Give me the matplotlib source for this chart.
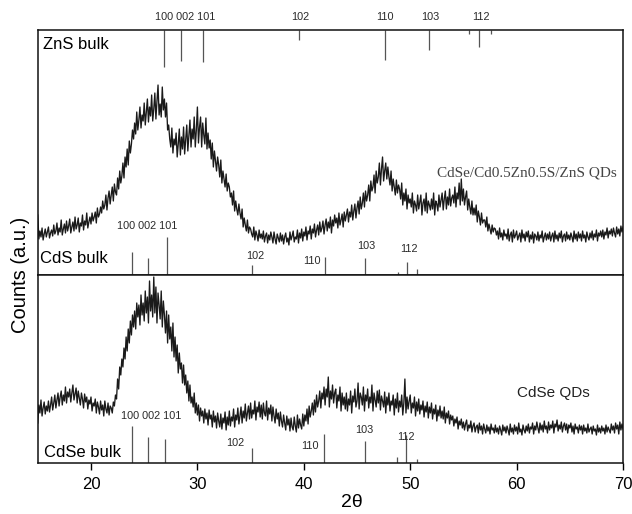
import numpy as np
import matplotlib
matplotlib.use('Agg')
import matplotlib.pyplot as plt

plt.rcParams['font.family'] = ['Liberation Sans', 'DejaVu Sans']

# 2theta grid, 0.1 deg steps from 15 to 70
two_theta = np.linspace(15, 70, 551)

# CdSe/Cd0.5Zn0.5S/ZnS QDs pattern (a.u.), one row per degree
core_shell_rows = [
    [60, 36, 44, 38, 47, 35, 41, 46, 38, 43],
    [48, 37, 42, 45, 39, 50, 41, 44, 52, 40],
    [47, 43, 55, 40, 46, 51, 42, 54, 44, 49],
    [56, 42, 48, 53, 44, 58, 46, 50, 57, 43],
    [52, 49, 60, 45, 54, 50, 62, 47, 53, 58],
    [51, 62, 54, 58, 63, 52, 67, 58, 61, 68],
    [62, 74, 66, 70, 80, 65, 77, 84, 71, 80],
    [88, 74, 91, 83, 80, 97, 86, 104, 92, 99],
    [112, 97, 118, 108, 126, 110, 134, 122, 131, 145],
    [136, 152, 141, 163, 145, 155, 168, 147, 160, 154],
    [172, 150, 163, 176, 153, 168, 159, 180, 154, 166],
    [182, 156, 174, 190, 160, 171, 158, 188, 165, 176],
    [158, 172, 145, 150, 136, 128, 147, 122, 136, 130],
    [142, 118, 131, 146, 120, 138, 126, 148, 121, 135],
    [150, 124, 139, 155, 128, 146, 136, 158, 128, 145],
    [168, 132, 148, 158, 128, 152, 140, 131, 157, 126],
    [142, 127, 135, 116, 132, 108, 124, 114, 104, 118],
    [110, 98, 115, 92, 104, 96, 88, 101, 84, 92],
    [88, 78, 82, 70, 84, 64, 74, 66, 60, 71],
    [62, 56, 66, 48, 57, 50, 44, 55, 42, 48],
    [46, 41, 38, 48, 35, 44, 40, 34, 45, 37],
    [41, 36, 44, 33, 39, 42, 32, 40, 35, 43],
    [38, 32, 43, 36, 31, 41, 37, 33, 42, 34],
    [40, 31, 38, 42, 33, 37, 30, 43, 35, 39],
    [44, 33, 38, 36, 45, 32, 42, 37, 46, 34],
    [43, 39, 48, 35, 44, 41, 49, 36, 46, 42],
    [51, 38, 45, 50, 40, 53, 43, 47, 54, 41],
    [50, 56, 44, 53, 47, 58, 42, 55, 49, 60],
    [52, 57, 47, 62, 50, 55, 61, 48, 63, 54],
    [60, 66, 53, 63, 58, 70, 55, 64, 71, 57],
    [67, 74, 61, 78, 66, 72, 82, 68, 84, 74],
    [80, 90, 74, 94, 84, 88, 100, 82, 104, 92],
    [98, 112, 90, 106, 118, 94, 104, 112, 96, 108],
    [98, 90, 104, 84, 96, 88, 80, 95, 82, 90],
    [86, 76, 92, 70, 82, 74, 86, 66, 80, 72],
    [76, 68, 82, 62, 74, 70, 64, 80, 66, 73],
    [80, 60, 72, 76, 64, 82, 62, 74, 70, 65],
    [76, 66, 82, 60, 74, 71, 64, 80, 68, 75],
    [82, 65, 76, 84, 66, 78, 70, 86, 69, 77],
    [80, 72, 88, 68, 82, 76, 92, 70, 96, 74],
    [86, 70, 78, 84, 65, 76, 68, 61, 74, 60],
    [67, 60, 70, 53, 64, 58, 50, 62, 52, 55],
    [55, 48, 58, 44, 51, 46, 41, 50, 43, 47],
    [46, 40, 44, 36, 47, 38, 42, 35, 45, 39],
    [41, 36, 46, 34, 40, 43, 33, 45, 37, 40],
    [44, 35, 39, 42, 33, 45, 37, 41, 34, 43],
    [38, 44, 33, 40, 36, 43, 32, 41, 39, 35],
    [43, 34, 40, 37, 44, 33, 38, 42, 35, 41],
    [36, 43, 34, 39, 42, 33, 44, 36, 40, 34],
    [42, 37, 44, 33, 39, 41, 34, 43, 36, 40],
    [35, 42, 38, 33, 44, 36, 41, 34, 43, 37],
    [41, 34, 44, 37, 40, 33, 43, 38, 35, 42],
    [37, 44, 35, 41, 38, 45, 34, 42, 39, 44],
    [38, 45, 36, 43, 40, 47, 37, 44, 41, 46],
    [39, 47, 42, 38, 48, 41, 46, 39, 49, 43],
    [48],
]

# CdSe QDs pattern (a.u.)
cdse_rows = [
    [40, 58, 50, 63, 47, 55, 61, 49, 57, 52],
    [62, 51, 58, 66, 53, 60, 68, 55, 63, 70],
    [57, 66, 72, 58, 68, 62, 76, 60, 71, 66],
    [74, 61, 70, 78, 63, 69, 75, 60, 72, 65],
    [58, 70, 64, 55, 69, 61, 66, 54, 63, 59],
    [66, 52, 60, 57, 64, 50, 61, 56, 49, 62],
    [53, 58, 47, 62, 54, 50, 60, 48, 57, 55],
    [50, 61, 57, 68, 64, 84, 74, 96, 88, 104],
    [96, 115, 104, 126, 112, 134, 120, 142, 128, 148],
    [136, 152, 134, 160, 146, 158, 138, 168, 148, 160],
    [142, 172, 150, 166, 140, 182, 152, 168, 146, 186],
    [150, 176, 140, 170, 158, 144, 172, 136, 162, 148],
    [130, 152, 120, 148, 124, 136, 112, 140, 106, 126],
    [102, 118, 90, 110, 94, 100, 80, 98, 78, 88],
    [70, 82, 62, 78, 60, 66, 56, 70, 50, 60],
    [48, 58, 42, 55, 47, 52, 40, 54, 44, 50],
    [38, 53, 44, 48, 36, 52, 41, 47, 35, 50],
    [42, 36, 49, 34, 45, 40, 51, 33, 46, 38],
    [52, 37, 46, 42, 54, 36, 48, 43, 55, 39],
    [47, 56, 40, 52, 45, 59, 42, 50, 57, 44],
    [60, 45, 53, 49, 62, 43, 56, 51, 61, 46],
    [58, 44, 60, 50, 47, 62, 43, 55, 49, 58],
    [42, 56, 47, 40, 54, 44, 50, 37, 51, 42],
    [36, 48, 40, 33, 47, 38, 44, 32, 45, 36],
    [33, 46, 37, 31, 48, 35, 44, 38, 34, 49],
    [37, 48, 42, 54, 39, 57, 46, 52, 60, 48],
    [63, 51, 68, 56, 62, 72, 55, 70, 64, 76],
    [58, 74, 66, 86, 56, 72, 64, 78, 60, 70],
    [74, 55, 68, 62, 76, 52, 70, 58, 66, 54],
    [70, 52, 64, 58, 72, 50, 67, 61, 74, 56],
    [62, 80, 54, 70, 66, 58, 76, 52, 68, 62],
    [74, 55, 66, 60, 78, 52, 70, 63, 56, 72],
    [60, 73, 53, 67, 62, 56, 71, 50, 66, 58],
    [70, 52, 62, 58, 68, 48, 64, 55, 70, 51],
    [62, 56, 68, 48, 60, 84, 50, 66, 54, 62],
    [68, 50, 60, 55, 66, 47, 61, 52, 64, 49],
    [58, 53, 62, 46, 57, 51, 61, 45, 56, 50],
    [60, 44, 54, 49, 58, 42, 53, 47, 57, 45],
    [52, 44, 56, 40, 50, 45, 52, 39, 48, 43],
    [47, 37, 44, 40, 46, 34, 42, 38, 44, 35],
    [41, 33, 39, 43, 32, 38, 35, 42, 31, 37],
    [40, 31, 36, 38, 30, 40, 33, 37, 29, 39],
    [34, 30, 38, 32, 36, 29, 39, 33, 35, 30],
    [38, 31, 35, 29, 37, 33, 28, 38, 32, 36],
    [30, 37, 33, 28, 39, 31, 35, 29, 38, 32],
    [36, 29, 40, 31, 34, 28, 38, 33, 30, 37],
    [32, 39, 30, 36, 34, 40, 29, 37, 33, 41],
    [35, 30, 40, 33, 38, 31, 42, 34, 37, 30],
    [41, 33, 38, 35, 42, 30, 39, 36, 43, 32],
    [38, 34, 41, 31, 37, 40, 33, 39, 30, 38],
    [35, 40, 31, 37, 29, 39, 34, 36, 30, 38],
    [33, 37, 29, 38, 32, 35, 30, 39, 31, 34],
    [36, 29, 37, 32, 34, 28, 38, 31, 35, 30],
    [37, 32, 35, 29, 38, 31, 36, 33, 30, 39],
    [33, 37, 30, 40, 34, 38, 29, 41, 33, 39],
    [34],
]

core_shell_counts = np.array([v for row in core_shell_rows for v in row])
cdse_counts = np.array([v for row in cdse_rows for v in row])

# reference patterns (stick positions and relative heights)
zns_pos = [26.86, 28.46, 30.53, 39.55, 47.63, 51.77, 55.5, 56.47, 57.6]
zns_int = [37, 31, 32, 10, 30, 20, 4, 17, 4]
cds_pos = [23.86, 25.4, 27.1, 35.1, 41.99, 45.75, 48.85, 49.7, 50.6]
cds_int = [23, 17, 38, 10, 18, 17, 3, 13, 6]
cdse_pos = [23.86, 25.4, 27.0, 35.1, 41.9, 45.75, 48.8, 49.6, 50.6]
cdse_int = [37, 26, 24, 15, 29, 22, 6, 28, 4]

hkl_labels = ['100 002 101', '102', '110', '103', '112']
zns_label_x = [28.83, 39.7, 47.6, 51.9, 56.6]
cds_label_xy = [(25.3, 49), (35.4, 19), (40.8, 14), (45.84, 29), (49.9, 26)]
cdse_label_xy = [(25.7, 47), (33.6, 20), (40.6, 17), (45.7, 33), (49.6, 26)]

top_max = 245
bot_max = 188

fig = plt.figure(figsize=(6.32, 5.14), dpi=100)
ax1 = fig.add_axes([0.0598, 0.465, 0.926, 0.4766])
ax2 = fig.add_axes([0.0598, 0.0992, 0.926, 0.3658], sharex=ax1)

line_col = '#1a1a1a'
stick_col = '#555555'
lab_col = '#2a2a2a'
hkl_size = 7.8

# top panel
ax1.plot(two_theta, core_shell_counts, color=line_col, lw=0.95)
ax1.vlines(zns_pos, [top_max - h for h in zns_int], top_max, color=stick_col, lw=0.9)
ax1.vlines(cds_pos, 0, cds_int, color=stick_col, lw=0.9)
for txt, x in zip(hkl_labels, zns_label_x):
    ax1.text(x, top_max + 13, txt, ha='center', va='center', fontsize=hkl_size, color=lab_col, clip_on=False)
for txt, (x, y) in zip(hkl_labels, cds_label_xy):
    ax1.text(x, y, txt, ha='center', va='center', fontsize=hkl_size, color=lab_col)
ax1.text(15.5, 231, 'ZnS bulk', fontsize=12, va='center', ha='left')
ax1.text(15.2, 16, 'CdS bulk', fontsize=12, va='center', ha='left')
ax1.text(69.4, 102, 'CdSe/Cd0.5Zn0.5S/ZnS QDs', fontsize=11, va='center', ha='right',
         color='#444444', family=['Liberation Serif', 'DejaVu Serif'])
ax1.set_ylim(0, top_max)

# bottom panel
ax2.plot(two_theta, cdse_counts, color=line_col, lw=0.95)
ax2.vlines(cdse_pos, 0, cdse_int, color=stick_col, lw=0.9)
for txt, (x, y) in zip(hkl_labels, cdse_label_xy):
    ax2.text(x, y, txt, ha='center', va='center', fontsize=hkl_size, color=lab_col)
ax2.text(15.6, 11, 'CdSe bulk', fontsize=12, va='center', ha='left')
ax2.text(66.9, 70, 'CdSe QDs', fontsize=11, va='center', ha='right', color='#222222')
ax2.set_ylim(0, bot_max)

ax2.set_xlim(15, 70)
ax2.set_xticks([20, 30, 40, 50, 60, 70])
ax2.tick_params(axis='x', direction='out', length=5, width=1, labelsize=12, pad=5)
ax1.tick_params(axis='x', bottom=False, labelbottom=False)
for ax in (ax1, ax2):
    ax.set_yticks([])
    for s in ax.spines.values():
        s.set_linewidth(1.1)
        s.set_color('#111111')

ax2.set_xlabel('2θ', fontsize=14)
ax2.xaxis.set_label_coords(0.537, -0.165)
fig.text(0.033, 0.465, 'Counts (a.u.)', rotation=90, fontsize=14.5, ha='center', va='center')

fig.savefig('out.png', dpi=100)
